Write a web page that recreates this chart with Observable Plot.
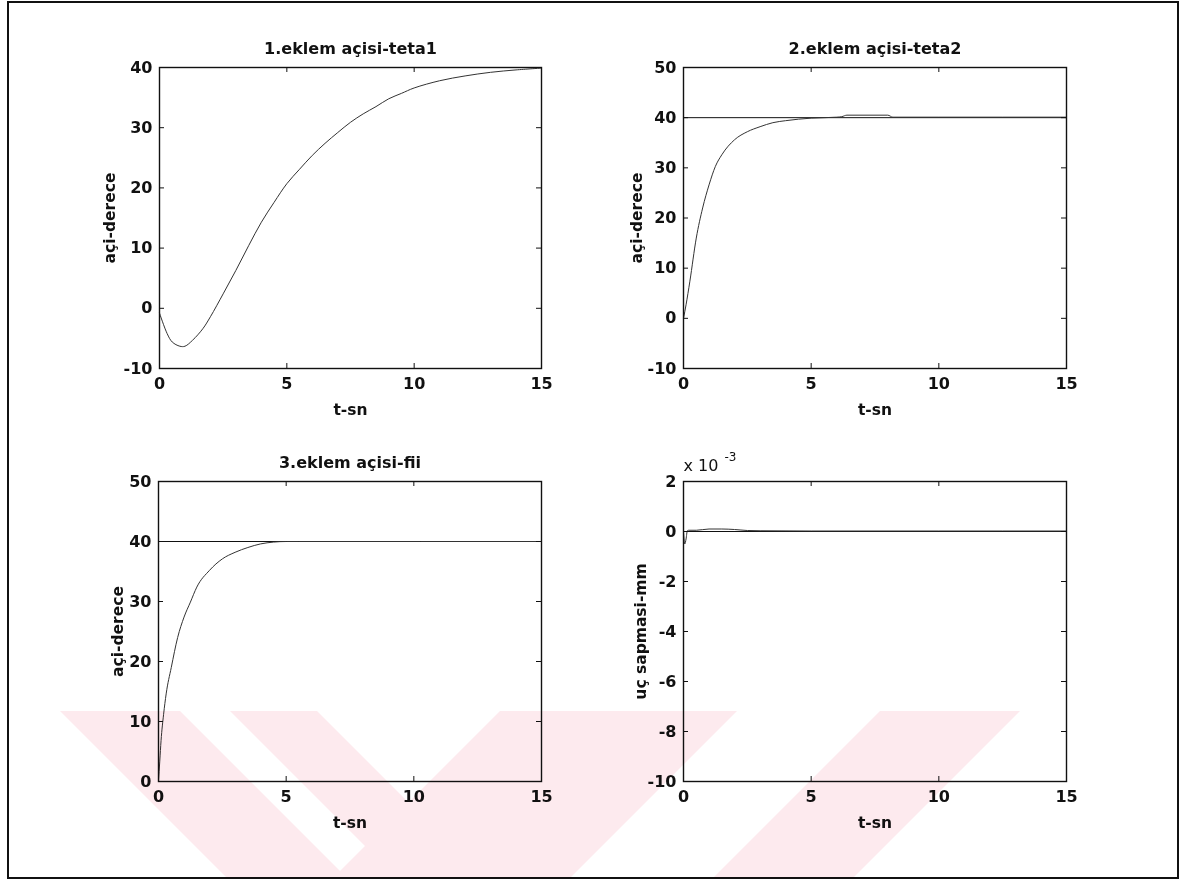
<!DOCTYPE html>
<html>
<head>
<meta charset="utf-8">
<script src="https://cdn.jsdelivr.net/npm/d3@7"></script>
<script src="https://cdn.jsdelivr.net/npm/@observablehq/plot@0.6"></script>
<style>
  html, body { margin: 0; padding: 0; background: #fff; }
  #page { position: relative; width: 1181px; height: 881px; overflow: hidden; background: #fff; }
  #border { position: absolute; left: 7px; top: 1px; width: 1168px; height: 874px; border: 2px solid #111; }
  #wm { position: absolute; left: 0; top: 0; mix-blend-mode: multiply; pointer-events: none; }
  svg { overflow: visible; }
</style>
</head>
<body>
<div id="page"><div id="border"></div></div>
<script>
// ---- data ----
const xTicks = [0, 5, 10, 15];

const t1 = [0, 0.3, 0.5, 0.8, 1, 1.3, 1.7, 2, 2.5, 3, 3.5, 4, 4.5, 5, 5.5, 6, 6.5, 7, 7.5, 8, 8.5, 9, 9.5, 10, 11, 12, 13, 14, 15];
const teta1 = [-0.8, -4.2, -5.6, -6.3, -6.3, -5.3, -3.4, -1.4, 2.4, 6.3, 10.4, 14.3, 17.6, 20.7, 23.1, 25.4, 27.4, 29.2, 30.9, 32.3, 33.5, 34.8, 35.7, 36.6, 37.8, 38.6, 39.2, 39.6, 39.9];

const t2 = [0, 0.1, 0.25, 0.5, 0.75, 1, 1.25, 1.5, 2, 2.5, 3, 3.5, 4, 4.5, 5, 6, 6.2, 6.4, 8, 8.2, 10, 15];
const teta2 = [0, 2.7, 7.4, 16, 22, 26.6, 30.3, 32.6, 35.6, 37.2, 38.2, 39, 39.4, 39.7, 39.9, 40.1, 40.2, 40.5, 40.5, 40.1, 40.1, 40.1];

const t3 = [0, 0.05, 0.1, 0.2, 0.3, 0.5, 0.75, 1, 1.25, 1.5, 2, 2.5, 3, 3.5, 4, 4.5, 5, 5.5, 15];
const fii = [0, 3.4, 6.8, 11.2, 14.6, 19, 24, 27.4, 29.9, 32.4, 35.2, 37.1, 38.2, 39, 39.6, 39.9, 40, 40, 40];

const t4 = [0, 0.05, 0.1, 0.15, 0.2, 0.5, 1, 1.5, 2, 2.5, 3, 5, 10, 15];
const sapma = [0, -0.0005, -0.0003, 0.00003, 0.00005, 0.00005, 0.0001, 0.0001, 0.00008, 0.00004, 0.00003, 0.00002, 0.00002, 0.00002];

const refAngle = [40];   // set value (degrees)
const refDev = [0];      // ideal deviation

const yTicks1 = [-10, 0, 10, 20, 30, 40];
const yTicks2 = [-10, 0, 10, 20, 30, 40, 50];
const yTicks3 = [0, 10, 20, 30, 40, 50];
const yTicks4 = [-0.010, -0.008, -0.006, -0.004, -0.002, 0, 0.002];

const titles = ["1.eklem açisi-teta1", "2.eklem açisi-teta2", "3.eklem açisi-fii", ""];
const yLabels = ["açi-derece", "açi-derece", "açi-derece", "uç sapmasi-mm"];
const xLabel = "t-sn";

// ---- drawing ----
const page = document.getElementById("page");
const FONT = "'DejaVu Sans', sans-serif";

function panel(o) {
  const mL = 110, mR = 30, mT = 45, mB = 65;
  const pw = o.R - o.L, ph = o.B - o.T;
  const rows = o.t.map((t, i) => ({t, v: o.v[i]}));
  const marks = [
    Plot.ruleY(o.ref, {stroke: "#111", strokeWidth: 1}),
    Plot.line(rows, {x: "t", y: "v", stroke: "#333", strokeWidth: 1, curve: o.curve || "monotone-x"}),
    Plot.frame({stroke: "#111", strokeWidth: 1.4}),
    Plot.tickX(xTicks, {x: d => d, insetTop: ph - 5, stroke: "#111"}),
    Plot.tickX(xTicks, {x: d => d, insetBottom: ph - 5, stroke: "#111"}),
    Plot.tickY(o.yTicks, {y: d => d, insetLeft: pw - 5, stroke: "#111"}),
    Plot.tickY(o.yTicks, {y: d => d, insetRight: pw - 5, stroke: "#111"}),
    Plot.axisX(xTicks, {tickSize: 0, tickPadding: 9, label: null, fontSize: 16, fontWeight: "bold"}),
    Plot.axisY(o.yTicks, {tickSize: 0, tickPadding: 7, label: null, fontSize: 16, fontWeight: "bold", tickFormat: o.fmt || (d => d)}),
    Plot.text([xLabel], {frameAnchor: "bottom", dy: 46, lineAnchor: "bottom", textAnchor: "middle", fontSize: 15.5, fontWeight: "bold"}),
    Plot.text([o.ylabel], {frameAnchor: "left", rotate: -90, dx: -o.yOff, lineAnchor: "bottom", textAnchor: "middle", fontSize: 15.5, fontWeight: "bold"})
  ];
  if (o.title) marks.push(Plot.text([o.title], {frameAnchor: "top", dy: -14, lineAnchor: "bottom", textAnchor: "middle", fontSize: 16, fontWeight: "bold"}));
  if (o.extra) marks.push(...o.extra);
  const svg = Plot.plot({
    width: pw + mL + mR, height: ph + mT + mB,
    marginLeft: mL, marginRight: mR, marginTop: mT, marginBottom: mB,
    x: {domain: [0, 15]},
    y: {domain: o.ydomain},
    style: {fontFamily: FONT, color: "#111", background: "transparent", overflow: "visible"},
    marks
  });
  svg.style.position = "absolute";
  svg.style.left = (o.L - mL) + "px";
  svg.style.top = (o.T - mT) + "px";
  page.appendChild(svg);
}

panel({L: 159, T: 67, R: 541, B: 368, ydomain: [-10, 40], yTicks: yTicks1, t: t1, v: teta1, ref: refAngle,
  title: titles[0], ylabel: yLabels[0], yOff: 45, curve: "catmull-rom"});
panel({L: 683, T: 67, R: 1066, B: 368, ydomain: [-10, 50], yTicks: yTicks2, t: t2, v: teta2, ref: refAngle,
  title: titles[1], ylabel: yLabels[1], yOff: 42});
panel({L: 158, T: 481, R: 541, B: 781, ydomain: [0, 50], yTicks: yTicks3, t: t3, v: fii, ref: refAngle,
  title: titles[2], ylabel: yLabels[2], yOff: 36});
panel({L: 683, T: 481, R: 1066, B: 781, ydomain: [-0.010, 0.002], yTicks: yTicks4, t: t4, v: sapma, ref: refDev,
  title: titles[3], ylabel: yLabels[3], yOff: 38, fmt: d => Math.round(d * 1000),
  extra: [
    Plot.text(["x 10"], {frameAnchor: "top-left", dy: -11, lineAnchor: "bottom", textAnchor: "start", fontSize: 16}),
    Plot.text(["-3"], {frameAnchor: "top-left", dx: 41, dy: -21, lineAnchor: "bottom", textAnchor: "start", fontSize: 12})
  ]});

// faint watermark of the scanned page
const wm = d3.select(page).append("svg").attr("id", "wm").attr("width", 1181).attr("height", 881);
const wy0 = 711, wy1 = 878, wh = wy1 - wy0;
const bands = [[60, 180, 1], [230, 317, 1], [500, 737, -1], [880, 1020, -1]];
wm.selectAll("polygon").data(bands).join("polygon")
  .attr("points", ([a, b, s]) => `${a},${wy0} ${b},${wy0} ${b + s * wh},${wy1} ${a + s * wh},${wy1}`)
  .attr("fill", "#fdeaee");
</script>
</body>
</html>
